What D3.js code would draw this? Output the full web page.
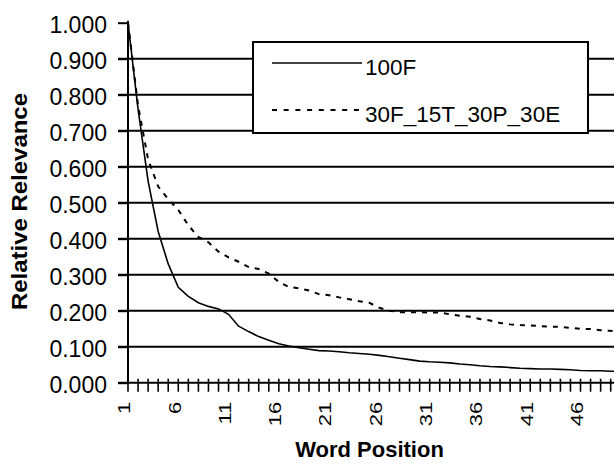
<!DOCTYPE html>
<html>
<head>
<meta charset="utf-8">
<script src="https://cdn.jsdelivr.net/npm/d3@7"></script>
<style>
body{margin:0;background:#fff}
svg{display:block}
</style>
</head>
<body>
<svg id="chart"></svg>
<script>
var width = 614;
var height = 464;

// word positions 1..50
var positions = d3.range(1, 51);
var series100F = [1.000, 0.760, 0.560, 0.420, 0.330, 0.265, 0.240, 0.222, 0.212, 0.205,
                  0.190, 0.157, 0.142, 0.128, 0.118, 0.108, 0.102, 0.097, 0.093, 0.089,
                  0.088, 0.086, 0.083, 0.081, 0.079, 0.076, 0.072, 0.068, 0.064, 0.060,
                  0.058, 0.057, 0.055, 0.052, 0.050, 0.047, 0.045, 0.044, 0.042, 0.040,
                  0.039, 0.038, 0.038, 0.037, 0.036, 0.034, 0.033, 0.033, 0.032, 0.032];
var series30F = [1.000, 0.770, 0.620, 0.545, 0.510, 0.480, 0.437, 0.405, 0.390, 0.364,
                 0.348, 0.336, 0.321, 0.316, 0.303, 0.280, 0.266, 0.262, 0.256, 0.246,
                 0.243, 0.237, 0.232, 0.226, 0.222, 0.208, 0.200, 0.196, 0.196, 0.196,
                 0.195, 0.195, 0.190, 0.186, 0.183, 0.177, 0.173, 0.166, 0.162, 0.160,
                 0.159, 0.157, 0.156, 0.155, 0.152, 0.150, 0.149, 0.146, 0.144, 0.143];
var xTickLabels = [1, 6, 11, 16, 21, 26, 31, 36, 41, 46];
var yTicks = [0, 0.1, 0.2, 0.3, 0.4, 0.5, 0.6, 0.7, 0.8, 0.9, 1.0];
var seriesNames = ["100F", "30F_15T_30P_30E"];

var plotLeft = 128, plotTop = 22.7, plotBottom = 382.7, step = 10.056;
var font = "'Liberation Sans', Arial, sans-serif";

var svg = d3.select("#chart").attr("width", width).attr("height", height);

var x = d3.scalePoint().domain(positions).range([plotLeft, plotLeft + step * (positions.length - 1)]);
var y = d3.scaleLinear().domain([0, 1]).range([plotBottom, plotTop]);

// gridlines
svg.selectAll(".grid")
  .data(yTicks.filter(function(d) { return d > 0 && d < 1; }))
  .enter().append("line")
  .attr("x1", plotLeft - 10).attr("x2", width)
  .attr("y1", function(d) { return y(d); })
  .attr("y2", function(d) { return y(d); })
  .attr("stroke", "#000").attr("stroke-width", 2);

// y axis
var gy = svg.append("g")
  .attr("transform", "translate(" + plotLeft + ",0)")
  .call(d3.axisLeft(y).tickValues(yTicks).tickFormat(d3.format(".3f")).tickSize(10).tickPadding(11));
gy.select(".domain").remove();
gy.selectAll(".tick line").attr("stroke", "#000").attr("stroke-width", 2);
gy.selectAll(".tick text")
  .attr("font-family", font).attr("font-size", 23).attr("fill", "#000").attr("dy", "0.43em");

// x axis ticks (crossing the axis)
svg.selectAll(".xtick")
  .data(positions)
  .enter().append("line")
  .attr("x1", function(d) { return x(d); })
  .attr("x2", function(d) { return x(d); })
  .attr("y1", plotBottom - 4).attr("y2", plotBottom + 9)
  .attr("stroke", "#000").attr("stroke-width", 1.6);

svg.selectAll(".xlabel")
  .data(xTickLabels)
  .enter().append("text")
  .attr("transform", function(d) { return "translate(" + (x(d) - 3) + "," + (plotBottom + 19) + ") rotate(-90) scale(1,0.72)"; })
  .attr("text-anchor", "end")
  .attr("dominant-baseline", "central")
  .attr("font-family", font).attr("font-size", 22)
  .text(function(d) { return d; });

// axis lines
svg.append("line").attr("x1", plotLeft).attr("x2", plotLeft).attr("y1", plotTop - 2).attr("y2", plotBottom + 1)
  .attr("stroke", "#000").attr("stroke-width", 2);
svg.append("line").attr("x1", plotLeft - 10).attr("x2", width).attr("y1", plotBottom).attr("y2", plotBottom)
  .attr("stroke", "#000").attr("stroke-width", 2);

// series
var line = d3.line()
  .x(function(d, i) { return x(positions[i]); })
  .y(function(d) { return y(d); });

svg.append("path")
  .datum(series30F)
  .attr("fill", "none").attr("stroke", "#000").attr("stroke-width", 2)
  .attr("stroke-dasharray", "5,6")
  .attr("d", line);

svg.append("path")
  .datum(series100F)
  .attr("fill", "none").attr("stroke", "#000").attr("stroke-width", 1.6)
  .attr("d", line);

// axis titles
svg.append("text")
  .attr("transform", "translate(27,201.5) rotate(-90)")
  .attr("text-anchor", "middle")
  .attr("font-family", font).attr("font-size", 22).attr("font-weight", "bold")
  .attr("textLength", 217).attr("lengthAdjust", "spacingAndGlyphs")
  .text("Relative Relevance");

svg.append("text")
  .attr("x", 369.5).attr("y", 456.5)
  .attr("text-anchor", "middle")
  .attr("font-family", font).attr("font-size", 22).attr("font-weight", "bold")
  .text("Word Position");

// legend
var lg = svg.append("g");
lg.append("rect")
  .attr("x", 253).attr("y", 42).attr("width", 335).attr("height", 91)
  .attr("fill", "#fff").attr("stroke", "#000").attr("stroke-width", 2);
var legendY = [63, 110];
var legendTextY = [75, 121.7];
seriesNames.forEach(function(name, i) {
  lg.append("line")
    .attr("x1", 272).attr("x2", 362).attr("y1", legendY[i]).attr("y2", legendY[i])
    .attr("stroke", "#000").attr("stroke-width", i == 0 ? 1.6 : 2)
    .attr("stroke-dasharray", i == 0 ? null : "5,6.7");
  lg.append("text")
    .attr("x", 365).attr("y", legendTextY[i])
    .attr("font-family", font).attr("font-size", 22.5)
    .text(name);
});
</script>
</body>
</html>
